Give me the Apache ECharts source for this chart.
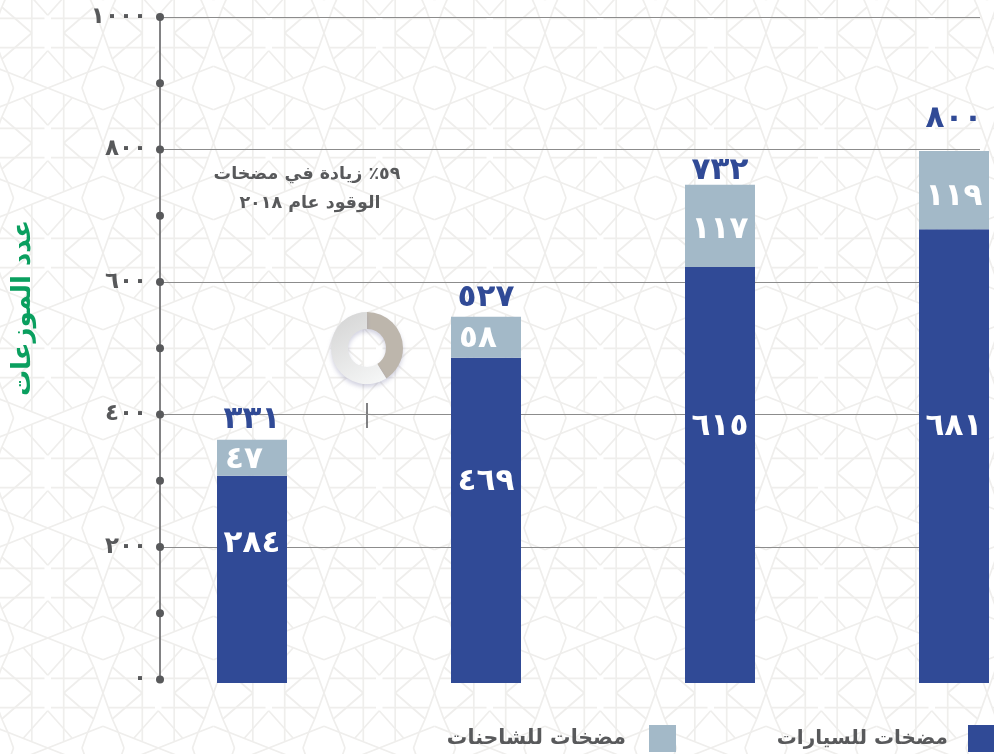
<!DOCTYPE html>
<html>
<head>
<meta charset="utf-8">
<style>
html,body{margin:0;padding:0;background:#fff;}
#chart{width:994px;height:754px;}
</style>
<script src="https://cdn.jsdelivr.net/npm/echarts@6/dist/echarts.min.js"></script>
</head>
<body>
<div id="chart"></div>
<script>
// bars in the source are not drawn to scale with their printed numbers,
// so heights read off the axis and printed labels are kept apart
var categories = ['1', '2', '3', '4'];
var carHeights = [313, 491, 628, 685];
var truckHeights = [54, 62, 124, 118];
var carLabels = [284, 469, 615, 681];
var truckLabels = [47, 58, 117, 119];
var totalLabels = [331, 527, 732, 800];
var axisDots = [0, 100, 200, 300, 400, 500, 600, 700, 800, 900, 1000];
var carName = 'مضخات للسيارات';
var truckName = 'مضخات للشاحنات';
var axisTitle = 'عدد الموزعات';
var noteLines = ['٥٩٪ زيادة في مضخات', 'الوقود عام ٢٠١٨'];
var donutValues = [41, 59];

var carOffsets = [[0, -35], [0, -38], [0, -48], [0, -29]];
var truckOffsets = [[-8, 2], [-8, 2], [0, 4], [0, 7]];
var totalOffsets = [[0, -4], [0, -3], [0, 2], [0, -16]];

var FONT = '"DejaVu Sans", sans-serif';
var NAVY = '#304a96', STEEL = '#a3b9c8', GREY = '#58595b', GREEN = '#0a9f5f';

function arabicDigits(n) {
    return String(n).replace(/[0-9]/g, function (d) { return '٠١٢٣٤٥٦٧٨٩'[+d]; });
}

// background lattice, one quarter of the repeat mirrored around each rosette
function latticeTile() {
    var w = 110.5, h = 110;
    var c = document.createElement('canvas');
    c.width = 221; c.height = 110;
    var ctx = c.getContext('2d');
    var segs = [
        [0, -21.7, 15.3, -15.7], [15.3, -15.7, 21, 0], [0, -55, 9.3, -29], [9.3, -29, 39.3, -55],
        [9.3, -29, 15.3, -15.7], [15.3, -15.7, 55.25, 0], [31, -10, 55.25, -37.3],
        [5.3, -40.3, 52, -40.3], [39.3, -55, 39.3, -6.7]
    ];
    ctx.strokeStyle = '#efeeec';
    ctx.lineWidth = 1.7;
    for (var m = -1; m <= 2; m++) {
        for (var n = -1; n <= 1; n++) {
            var cx = 103 + m * w, cy = 88 + n * h;
            [[1, 1], [-1, 1], [1, -1], [-1, -1]].forEach(function (s) {
                segs.forEach(function (g) {
                    ctx.beginPath();
                    ctx.moveTo(cx + s[0] * g[0], cy + s[1] * g[1]);
                    ctx.lineTo(cx + s[0] * g[2], cy + s[1] * g[3]);
                    ctx.stroke();
                });
            });
        }
    }
    return c;
}

var chart = echarts.init(document.getElementById('chart'));
chart.setOption({
    animation: false,
    backgroundColor: { image: latticeTile(), repeat: 'repeat' },
    textStyle: { fontFamily: FONT },
    legend: [
        {
            data: [carName], right: 0, top: 725, align: 'right', padding: 0, icon: 'rect',
            itemWidth: 26, itemHeight: 27, selectedMode: false,
            textStyle: { color: GREY, fontFamily: FONT, fontWeight: 'bold', fontSize: 20, padding: [0, 15, 6, 0] }
        },
        {
            data: [truckName], right: 318, top: 725, align: 'right', padding: 0, icon: 'rect',
            itemWidth: 27, itemHeight: 27, selectedMode: false,
            textStyle: { color: GREY, fontFamily: FONT, fontWeight: 'bold', fontSize: 20.5, padding: [0, 18, 6, 0] }
        }
    ],
    grid: [
        { left: 160, top: 17, width: 820, height: 662.5, outerBoundsMode: 'none' },
        { left: 135, top: 20.5, width: 936, height: 662.5, outerBoundsMode: 'none' }
    ],
    xAxis: [
        { gridIndex: 0, type: 'value', min: 0, max: 1, show: false },
        { gridIndex: 1, type: 'category', data: categories, show: false }
    ],
    yAxis: [
        {
            gridIndex: 0, type: 'value', min: 0, max: 1000, interval: 200,
            axisLine: { show: true, lineStyle: { color: GREY, width: 1.5 } },
            axisTick: { show: false },
            splitLine: { show: true, showMinLine: false, lineStyle: { color: '#8c8c8c', width: 1 } },
            axisLabel: {
                margin: 13, color: GREY, fontFamily: FONT, fontWeight: 'bold', fontSize: 23, padding: [8, 0, 0, 0],
                formatter: function (v) { return arabicDigits(v); }
            }
        },
        { gridIndex: 1, type: 'value', min: 0, max: 1000, show: false }
    ],
    series: [
        {
            type: 'scatter', xAxisIndex: 0, yAxisIndex: 0, silent: true, clip: false,
            symbolSize: 8, itemStyle: { color: GREY, opacity: 1 },
            data: axisDots.map(function (v) { return [0, v]; })
        },
        {
            name: carName, type: 'bar', xAxisIndex: 1, yAxisIndex: 1, stack: 'total', barWidth: 70,
            itemStyle: { color: NAVY },
            data: carHeights.map(function (v, i) {
                return {
                    value: v,
                    label: {
                        show: true, position: 'inside', offset: carOffsets[i], color: '#fff',
                        fontFamily: FONT, fontWeight: 'bold', fontSize: 31,
                        formatter: arabicDigits(carLabels[i])
                    }
                };
            })
        },
        {
            name: truckName, type: 'bar', xAxisIndex: 1, yAxisIndex: 1, stack: 'total', barWidth: 70,
            itemStyle: { color: STEEL },
            data: truckHeights.map(function (v, i) {
                return {
                    value: v,
                    label: {
                        show: true, position: 'inside', offset: truckOffsets[i], color: '#fff',
                        fontFamily: FONT, fontWeight: 'bold', fontSize: 31,
                        formatter: arabicDigits(truckLabels[i])
                    }
                };
            })
        },
        {
            type: 'scatter', xAxisIndex: 1, yAxisIndex: 1, silent: true, symbolSize: 1,
            itemStyle: { color: 'transparent', opacity: 1 },
            data: carHeights.map(function (v, i) {
                return {
                    value: [categories[i], v + truckHeights[i]],
                    label: {
                        show: true, position: 'top', distance: 0, offset: totalOffsets[i], color: NAVY,
                        fontFamily: FONT, fontWeight: 'bold', fontSize: 31,
                        formatter: arabicDigits(totalLabels[i])
                    }
                };
            })
        },
        {
            type: 'pie', silent: true, center: [367, 348], radius: [19, 36], startAngle: 90, clockwise: true,
            label: { show: false }, labelLine: { show: false },
            data: [
                { value: donutValues[0], itemStyle: { color: '#bdb6ac', shadowBlur: 4, shadowOffsetY: 3, shadowColor: 'rgba(130,130,170,0.35)' } },
                {
                    value: donutValues[1],
                    itemStyle: {
                        color: new echarts.graphic.LinearGradient(0.1, 0, 0.9, 1, [
                            { offset: 0, color: '#d4d4d4' }, { offset: 1, color: '#f6f7f7' }
                        ]),
                        shadowBlur: 4, shadowOffsetY: 3, shadowColor: 'rgba(130,130,170,0.35)'
                    }
                }
            ]
        }
    ],
    graphic: [
        {
            type: 'text', x: 23, y: 308, rotation: Math.PI / 2,
            style: { text: axisTitle, fill: GREEN, font: 'bold 26px ' + FONT, align: 'center', verticalAlign: 'middle' }
        },
        {
            type: 'text', x: 307, y: 174,
            style: { text: noteLines[0], fill: GREY, font: 'bold 17.5px ' + FONT, align: 'center', verticalAlign: 'middle' }
        },
        {
            type: 'text', x: 310, y: 203,
            style: { text: noteLines[1], fill: GREY, font: 'bold 17.5px ' + FONT, align: 'center', verticalAlign: 'middle' }
        },
        {
            type: 'line', shape: { x1: 367, y1: 403, x2: 367, y2: 428 },
            style: { stroke: GREY, lineWidth: 1.5 }
        }
    ]
});
</script>
</body>
</html>
